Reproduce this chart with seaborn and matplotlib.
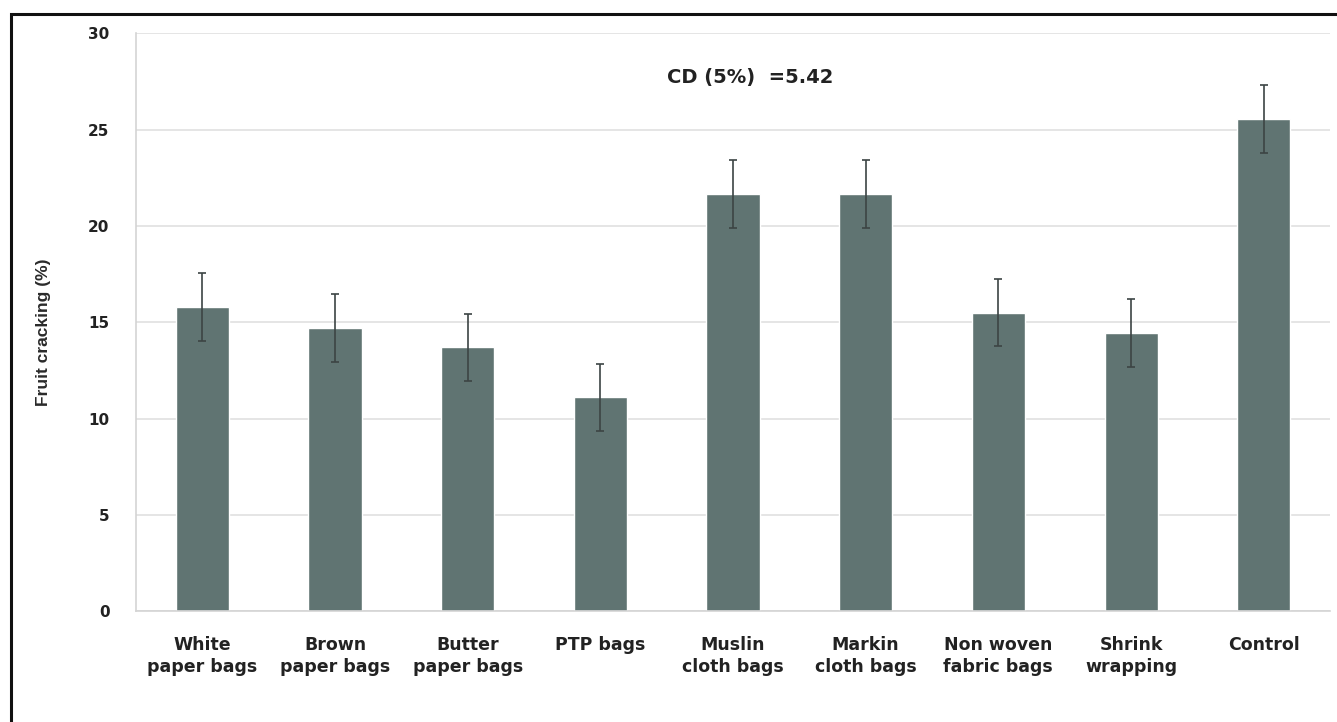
import matplotlib
matplotlib.use("Agg")
import matplotlib.pyplot as plt
import seaborn as sns
import pandas as pd
from matplotlib.patches import Rectangle

# values
categories = ["White\npaper bags", "Brown\npaper bags", "Butter\npaper bags", "PTP bags",
              "Muslin\ncloth bags", "Markin\ncloth bags", "Non woven\nfabric bags",
              "Shrink\nwrapping", "Control"]
cracking = [15.8, 14.7, 13.7, 11.1, 21.65, 21.65, 15.5, 14.45, 25.55]
errors = [1.75, 1.75, 1.75, 1.75, 1.75, 1.75, 1.75, 1.75, 1.75]
yticks = [0, 5, 10, 15, 20, 25, 30]
cd_text = "CD (5%)  =5.42"

df = pd.DataFrame({"treatment": categories, "cracking": cracking})

sns.set_style("white")
plt.rcParams["font.family"] = ["DejaVu Sans"]

fig = plt.figure(figsize=(13.37, 7.22), dpi=100)
ax = fig.add_axes([0.1017, 0.1532, 0.8931, 0.8007])

sns.barplot(data=df, x="treatment", y="cracking", color="#607472", saturation=1,
            width=0.40, errorbar=None, ax=ax)
ax.errorbar(range(len(cracking)), cracking, yerr=errors, fmt="none",
            ecolor="#3c4444", elinewidth=1.2, capsize=3, capthick=1.2, zorder=3)

ax.set_ylim(0, 30)
ax.set_xlim(-0.5, len(categories) - 0.5)
ax.set_yticks(yticks)
ax.grid(axis="y", color="#e0e0e0", linewidth=1.2)
ax.set_axisbelow(True)
for s in ["top", "right"]:
    ax.spines[s].set_visible(False)
for s in ["left", "bottom"]:
    ax.spines[s].set_color("#d4d4d4")
    ax.spines[s].set_linewidth(1.2)

ax.tick_params(axis="y", labelsize=11, length=0, pad=19)
for t in ax.get_yticklabels():
    t.set_fontweight("bold")
    t.set_color("#222222")

# category labels, plus short ticks at the category boundaries
ax.set_xticks(range(len(categories)))
ax.set_xticklabels(categories, fontsize=12.5, fontweight="bold", color="#222222",
                   linespacing=1.25)
ax.tick_params(axis="x", length=0, pad=18)
ax.set_xticks([i - 0.5 for i in range(len(categories) + 1)], minor=True)
ax.tick_params(axis="x", which="minor", length=5, color="#d4d4d4", width=1.2)

ax.set_xlabel("")
ax.set_ylabel("Fruit cracking (%)", fontsize=12.5,
              family=["Liberation Sans Narrow", "Liberation Sans"],
              fontweight="bold", color="#2a2a2a")
ax.yaxis.set_label_coords(-0.071, 0.483)

ax.text(4.13, 27.7, cd_text, ha="center", va="center", fontsize=14,
        fontweight="bold", color="#222222")

# outer frame around the figure
fig.patches.append(Rectangle((11 / 1337, -0.01), 1.02, 1 - 14 / 722 + 0.01,
                             transform=fig.transFigure, fill=False,
                             edgecolor="#111111", linewidth=2.2))

fig.savefig("out.png", dpi=100)
